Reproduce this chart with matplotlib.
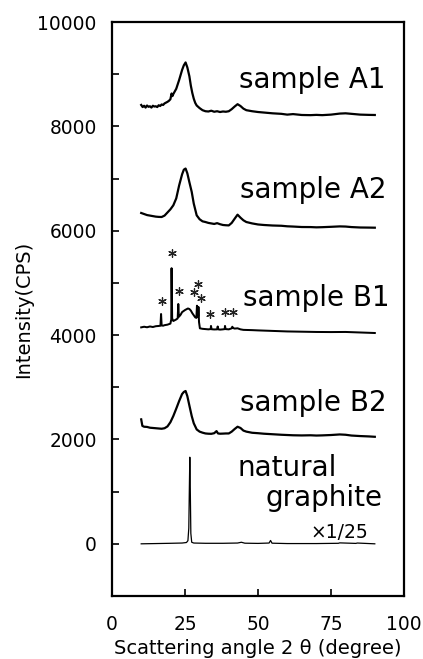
import matplotlib
matplotlib.use("Agg")
import matplotlib.pyplot as plt
from matplotlib.ticker import MultipleLocator

plt.rcParams['font.family'] = ['DejaVu Sans']

# ---- data ----
a1_x = [10, 10.5, 11, 11.5, 12, 12.5, 13, 13.5, 14, 14.5, 15, 15.5, 16, 16.5, 17, 17.5, 18, 18.5, 19, 19.5, 20, 20.4, 20.7, 21, 22, 23, 24, 24.6, 25.2, 25.8, 26.5, 27, 27.5, 28, 28.5, 29, 30, 31, 32, 33, 34, 35, 36, 37, 38, 39, 40, 41, 42, 43, 44, 45, 46, 48, 50, 52, 55, 58, 60, 62, 65, 68, 70, 72, 75, 78, 80, 82, 85, 88, 90]
a1_y = [8410, 8370, 8395, 8360, 8400, 8375, 8385, 8360, 8395, 8380, 8385, 8370, 8405, 8390, 8420, 8410, 8440, 8455, 8470, 8490, 8520, 8630, 8580, 8620, 8720, 8890, 9080, 9170, 9225, 9130, 8960, 8780, 8640, 8530, 8450, 8400, 8350, 8310, 8290, 8285, 8300, 8280, 8290, 8275, 8285, 8280, 8290, 8330, 8380, 8425, 8390, 8340, 8310, 8290, 8275, 8265, 8250, 8240, 8225, 8235, 8218, 8215, 8220, 8215, 8225, 8245, 8250, 8240, 8225, 8220, 8218]

a2_x = [10, 11, 12, 13, 14, 15, 16, 17, 18, 19, 20, 21, 22, 23, 24, 24.6, 25.2, 25.8, 26.5, 27.3, 28, 29, 30, 31, 32, 33, 34, 35, 36, 37, 38, 39, 40, 41, 42, 43, 44, 45, 46, 48, 50, 52, 55, 58, 60, 62, 65, 68, 70, 72, 75, 78, 80, 82, 85, 88, 90]
a2_y = [6340, 6320, 6300, 6290, 6280, 6270, 6265, 6263, 6290, 6350, 6410, 6487, 6620, 6870, 7080, 7170, 7192, 7100, 6930, 6744, 6520, 6295, 6220, 6180, 6167, 6150, 6140, 6130, 6145, 6125, 6110, 6105, 6102, 6150, 6230, 6308, 6250, 6200, 6167, 6140, 6120, 6110, 6100, 6095, 6085, 6080, 6071, 6070, 6065, 6068, 6075, 6083, 6080, 6070, 6062, 6060, 6058]

b1_x = [10, 11, 12, 13, 14, 15, 16, 16.6, 16.8, 17.0, 17.5, 18, 19, 20, 20.3, 20.4, 20.6, 21, 22, 22.5, 22.7, 22.9, 23.5, 24, 25, 26, 26.5, 27, 27.5, 28, 28.5, 28.9, 29.1, 29.3, 29.5, 29.6, 29.8, 30.1, 31, 32, 33, 33.8, 33.9, 34.1, 35, 36, 36.2, 36.4, 37, 38, 38.6, 38.7, 38.9, 40, 41, 41.2, 41.5, 42, 43, 44, 45, 48, 50, 55, 60, 65, 70, 75, 80, 85, 90]
b1_y = [4148, 4160, 4150, 4165, 4155, 4170, 4175, 4180, 4404, 4185, 4180, 4190, 4200, 4220, 4300, 5282, 4320, 4270, 4300, 4320, 4596, 4350, 4390, 4440, 4480, 4510, 4500, 4470, 4420, 4380, 4340, 4330, 4563, 4350, 4360, 4540, 4250, 4130, 4120, 4115, 4110, 4115, 4175, 4112, 4108, 4110, 4165, 4110, 4105, 4110, 4115, 4175, 4115, 4110, 4130, 4160, 4135, 4125, 4130, 4110, 4100, 4095, 4090, 4080, 4070, 4065, 4060, 4058, 4060, 4050, 4040]

b2_x = [10, 10.4, 11, 12, 13, 14, 15, 16, 17, 18, 19, 20, 21, 22, 23, 24, 24.6, 25.2, 25.8, 26.5, 27.3, 28, 29, 30, 31, 32, 33, 34, 35, 35.8, 36.3, 37, 38, 39, 40, 41, 42, 43, 44, 45, 46, 48, 50, 52, 55, 58, 60, 62, 65, 68, 70, 72, 75, 78, 80, 82, 85, 88, 90]
b2_y = [2385, 2260, 2244, 2240, 2225, 2220, 2215, 2210, 2205, 2215, 2250, 2330, 2449, 2590, 2737, 2870, 2910, 2929, 2830, 2650, 2449, 2310, 2192, 2150, 2130, 2115, 2110, 2108, 2120, 2160, 2115, 2110, 2112, 2115, 2115, 2150, 2200, 2244, 2220, 2170, 2150, 2128, 2120, 2110, 2100, 2090, 2085, 2080, 2077, 2080, 2075, 2078, 2085, 2096, 2090, 2075, 2065, 2058, 2051]

g_x = [10, 15, 20, 24, 25.5, 26.0, 26.3, 26.5, 26.65, 26.8, 27.0, 27.3, 28, 32, 38, 43, 44.3, 45.5, 50, 53.8, 54.3, 54.8, 60, 70, 77.5, 78, 83.5, 84, 90]
g_y = [0, 5, 10, 15, 25, 60, 300, 1100, 1660, 1100, 200, 30, 15, 10, 10, 15, 30, 12, 8, 15, 64, 12, 5, 5, 10, 18, 8, 15, 0]

# impurity-peak asterisks (centres)
star_x = [17.2, 20.6, 23.0, 28.2, 29.3, 30.5, 33.6, 38.6, 41.5]
star_y = [4660, 5570, 4852, 4820, 4980, 4710, 4404, 4450, 4450]

sample_labels = ["sample A1", "sample A2", "sample B1", "sample B2"]
label_x = [43.5, 44.0, 45.0, 44.0]
label_y = [8730, 6635, 4552, 2545]

x_ticks = [0, 25, 50, 75, 100]
y_ticks = [0, 2000, 4000, 6000, 8000, 10000]

# ---- figure ----
fig = plt.figure(figsize=(4.23, 6.59), dpi=100)
ax = fig.add_axes([112 / 423, 1 - 596 / 659, 292 / 423, 574 / 659])

lw = 1.6
ax.plot(a1_x, a1_y, color='black', lw=lw)
ax.plot(a2_x, a2_y, color='black', lw=lw)
ax.plot(b1_x, b1_y, color='black', lw=lw * 0.9)
ax.plot(b2_x, b2_y, color='black', lw=lw)
ax.plot(g_x, g_y, color='black', lw=0.9)

ax.scatter(star_x, star_y, marker=(6, 2, 0), s=30, color='#222222',
           linewidths=0.9, zorder=3)

for t, lx, ly in zip(sample_labels, label_x, label_y):
    ax.text(lx, ly, t, fontsize=20, ha='left', va='baseline')
ax.text(42.9, 1295, "natural", fontsize=20, ha='left', va='baseline')
ax.text(52.4, 718, "graphite", fontsize=20, ha='left', va='baseline')
ax.text(67.8, 110, "\u00d71/25", fontsize=13.5, ha='left', va='baseline')

ax.set_xlim(0, 100)
ax.set_ylim(-1000, 10000)
ax.set_xticks(x_ticks)
ax.set_yticks(y_ticks)
ax.yaxis.set_minor_locator(MultipleLocator(1000))
ax.tick_params(axis='both', which='both', direction='in', length=5, width=1.2,
               top=False, right=False)
ax.tick_params(axis='y', which='major', labelsize=13.4, pad=11)
ax.tick_params(axis='x', which='major', labelsize=13.4, pad=14)
for s in ax.spines.values():
    s.set_linewidth(1.6)

ax.set_xlabel("Scattering angle 2 \u03b8 (degree)", fontsize=14, labelpad=3)
ax.set_ylabel("Intensity(CPS)", fontsize=14, labelpad=3)

fig.savefig("out.png", dpi=100)
